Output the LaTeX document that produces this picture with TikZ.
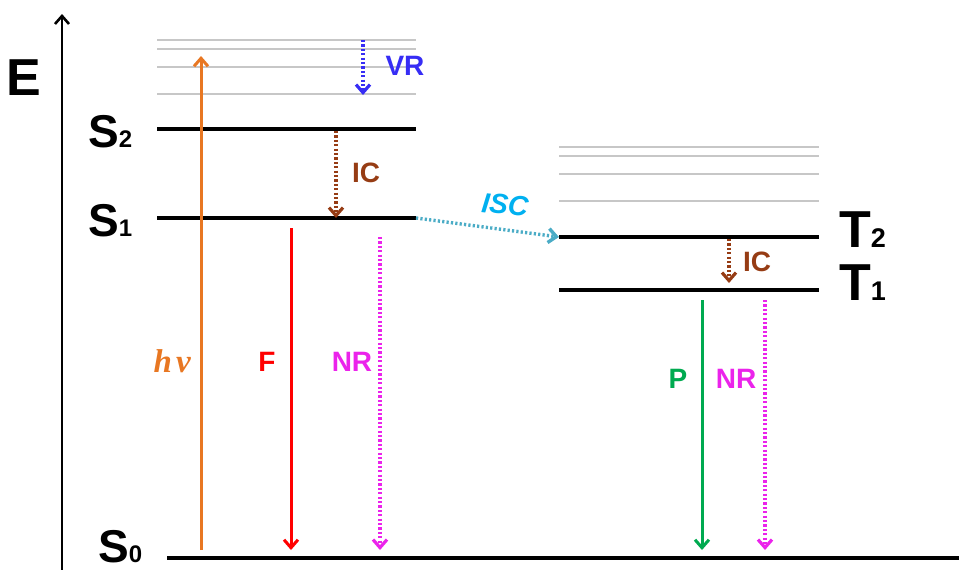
\documentclass[tikz,border=0pt]{standalone}
\usepackage{fontspec}
\setmainfont{Liberation Sans}
\newfontfamily\nufont{Liberation Serif}
\usetikzlibrary{arrows.meta}

\definecolor{hvorange}{RGB}{232,119,34}
\definecolor{fred}{RGB}{255,0,0}
\definecolor{nrpink}{RGB}{235,35,235}
\definecolor{vrblue}{RGB}{55,45,245}
\definecolor{icbrown}{RGB}{150,60,20}
\definecolor{isctext}{RGB}{0,176,240}
\definecolor{iscline}{RGB}{75,172,198}
\definecolor{pgreen}{RGB}{0,170,80}

% state label: letter, index, letter size, index size
\newcommand{\statename}[4]{{\fontsize{#3}{#3}\selectfont\bfseries #1}{\fontsize{#4}{#4}\selectfont\bfseries #2}}

\begin{document}
\begin{tikzpicture}[x=1pt,y=-1pt]
\tikzstyle{level} = [draw=black, line width=3.5pt]
\tikzstyle{vib} = [draw=black!22, line width=1.3pt]
\tikzstyle{trans} = [line width=3pt, -{Straight Barb[length=8pt,width=14pt]}]
\tikzstyle{nonrad} = [trans, line width=3.2pt, dash pattern=on 2.2pt off 2.2pt]
\tikzstyle{lbl} = [font=\fontsize{28}{28}\selectfont\bfseries, inner sep=0pt]
\useasboundingbox (0,0) rectangle (959,570);

% energy axis
\coordinate (axfoot) at (62,570);
\coordinate (axtip) at (62,14);
\draw[line width=2.6pt, -{Straight Barb[length=8pt,width=14pt]}] (axfoot) -- (axtip);
\node[inner sep=0pt, anchor=base west] (Elbl) at (6,95) {\fontsize{52}{52}\selectfont\bfseries E};

% singlet levels
\foreach \y in {40,49,67,94} \draw[vib] (157,\y) -- (416,\y);
\coordinate (S2a) at (157,129); \coordinate (S2b) at (416,129);
\coordinate (S1a) at (157,218); \coordinate (S1b) at (416,218);
\coordinate (S0a) at (167,558); \coordinate (S0b) at (959,558);
\draw[level] (S2a) -- (S2b);
\draw[level] (S1a) -- (S1b);
\draw[level] (S0a) -- (S0b);
\node[inner sep=0pt, anchor=base west] (S2lbl) at (88,147) {\statename{S}{2}{46}{24}};
\node[inner sep=0pt, anchor=base west] (S1lbl) at (88,236) {\statename{S}{1}{46}{24}};
\node[inner sep=0pt, anchor=base west] (S0lbl) at (98,562) {\statename{S}{0}{46}{24}};

% triplet levels
\foreach \y in {147,156,174,201} \draw[vib] (559,\y) -- (819,\y);
\coordinate (T2a) at (559,237); \coordinate (T2b) at (819,237);
\coordinate (T1a) at (559,290); \coordinate (T1b) at (819,290);
\draw[level] (T2a) -- (T2b);
\draw[level] (T1a) -- (T1b);
\node[inner sep=0pt, anchor=base west] (T2lbl) at (839,247) {\statename{T}{2}{52}{27}};
\node[inner sep=0pt, anchor=base west] (T1lbl) at (839,300) {\statename{T}{1}{52}{27}};

% absorption
\coordinate (hvfoot) at (201,550); \coordinate (hvtip) at (201,56);
\draw[trans, draw=hvorange] (hvfoot) -- (hvtip);
\node[inner sep=0pt, anchor=base east, text=hvorange] (hvlbl) at (191,372) {\fontsize{33}{33}\selectfont\nufont\bfseries\itshape h$\,$ν};

% vibrational relaxation
\coordinate (vrtop) at (363,40); \coordinate (vrtip) at (363,95);
\draw[nonrad, draw=vrblue] (vrtop) -- (vrtip);
\node[lbl, text=vrblue] (vrlbl) at (405,66) {VR};

% internal conversion S2 -> S1
\coordinate (ictop) at (336,131); \coordinate (ictip) at (336,218);
\draw[nonrad, draw=icbrown] (ictop) -- (ictip);
\node[lbl, text=icbrown] (iclbl) at (366,173) {IC};

% fluorescence and non-radiative decay from S1
\coordinate (ftop) at (291,228); \coordinate (ftip) at (291,550);
\draw[trans, draw=fred] (ftop) -- (ftip);
\node[lbl, text=fred] (flbl) at (267,362) {F};
\coordinate (nrtop) at (380,237); \coordinate (nrtip) at (380,550);
\draw[nonrad, draw=nrpink] (nrtop) -- (nrtip);
\node[lbl, text=nrpink] (nrlbl) at (352,362) {NR};

% intersystem crossing
\draw[nonrad, line width=3.4pt, draw=iscline] (S1b) -- (T2a);
\node[lbl, text=isctext, rotate=-6, font=\fontsize{28}{28}\selectfont\bfseries\itshape] (isclbl) at (505,205) {ISC};

% internal conversion T2 -> T1
\coordinate (ic2top) at (729,239); \coordinate (ic2tip) at (729,283);
\draw[nonrad, draw=icbrown] (ic2top) -- (ic2tip);
\node[lbl, text=icbrown] (ic2lbl) at (757,262) {IC};

% phosphorescence and non-radiative decay from T1
\coordinate (ptop) at (702,300); \coordinate (ptip) at (702,550);
\draw[trans, draw=pgreen] (ptop) -- (ptip);
\node[lbl, text=pgreen] (plbl) at (678,379) {P};
\coordinate (nr2top) at (765,300); \coordinate (nr2tip) at (765,550);
\draw[nonrad, draw=nrpink] (nr2top) -- (nr2tip);
\node[lbl, text=nrpink] (nr2lbl) at (736,379) {NR};
\end{tikzpicture}
\end{document}
